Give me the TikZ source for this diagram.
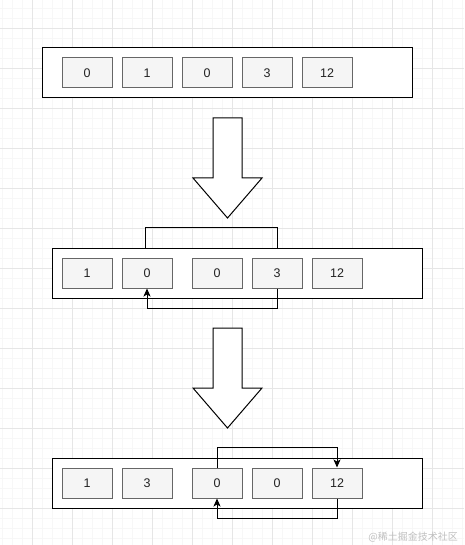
\documentclass[tikz,border=0pt]{standalone}
\usepackage{fontspec}
\setmainfont{Liberation Sans}
\newfontfamily\cjkfont{Noto Sans CJK SC}
\usetikzlibrary{arrows.meta,positioning}

\definecolor{cellfill}{HTML}{F5F5F5}
\definecolor{celldraw}{HTML}{666666}
\definecolor{celltext}{HTML}{222222}
\definecolor{gridmajor}{HTML}{E6E6E6}
\definecolor{gridminor}{HTML}{F7F7F7}

\tikzset{
  cell/.style={draw=celldraw,fill=cellfill,line width=1pt,minimum width=50pt,minimum height=30pt,
    inner sep=0pt,text=celltext,font=\fontsize{12.5}{14}\selectfont},
  row/.style={draw=black,fill=white,line width=1pt,minimum width=370pt,minimum height=50pt,inner sep=0pt},
  link/.style={draw=black,line width=1pt},
  blockarrow/.style={draw=black,fill=white,line width=1pt,line join=miter}
}

\begin{document}
\begin{tikzpicture}[x=1pt,y=-1pt]
  \useasboundingbox (0,0) rectangle (464,545);

  % Grid
  \foreach \gx in {2,12,...,462} \draw[gridminor,line width=0.6pt] (\gx,0) -- (\gx,545);
  \foreach \gy in {8,18,...,538} \draw[gridminor,line width=0.6pt] (0,\gy) -- (464,\gy);
  \foreach \gx in {32,72,...,432} \draw[gridmajor,line width=0.8pt] (\gx,0) -- (\gx,545);
  \foreach \gy in {28,68,...,508} \draw[gridmajor,line width=0.8pt] (0,\gy) -- (464,\gy);

  % First row
  \node[row] (rowa) at (227,73) {};
  \node[cell] (a1) at (87,73) {0};
  \node[cell] (a2) at (147,73) {1};
  \node[cell] (a3) at (207,73) {0};
  \node[cell] (a4) at (267,73) {3};
  \node[cell] (a5) at (327,73) {12};

  % Block arrows
  \draw[blockarrow] (213,118) -- (242,118) -- (242,178) -- (262,178) -- (227.5,218)
    -- (193,178) -- (213,178) -- cycle;
  \draw[blockarrow] (213,328) -- (242,328) -- (242,388) -- (262,388) -- (227.5,428)
    -- (193,388) -- (213,388) -- cycle;

  % Second row
  \node[cell] (b2) at (147,273) {};
  \node[cell] (b4) at (277,273) {};
  \draw[link] ([xshift=-2pt]b2.north) -- ++(0,-30) -| (b4.north);
  \node[row] (rowb) at (237,273) {};
  \node[cell] (b1) at (87,273) {1};
  \node[cell] (b2) at (147,273) {0};
  \node[cell] (b3) at (217,273) {0};
  \node[cell] (b4) at (277,273) {3};
  \node[cell] (b5) at (337,273) {12};
  \draw[link,-{Stealth[length=8pt,width=7pt,inset=2pt]}] (b4.south) -- ++(0,20) -| (b2.south);

  % Third row
  \node[row] (rowc) at (237,483) {};
  \node[cell] (c1) at (87,483) {1};
  \node[cell] (c2) at (147,483) {3};
  \node[cell] (c3) at (217,483) {0};
  \node[cell] (c4) at (277,483) {0};
  \node[cell] (c5) at (337,483) {12};
  \draw[link,-{Stealth[length=8pt,width=7pt,inset=2pt]}] (c3.north) -- ++(0,-20) -| (c5.north);
  \draw[link,-{Stealth[length=8pt,width=7pt,inset=2pt]}] (c5.south) -- ++(0,20) -| (c3.south);

  % Watermark
  \node[anchor=east,text=black!25,font=\cjkfont\fontsize{10}{12}\selectfont,inner sep=0pt] (mark)
    at (458,537) {@稀土掘金技术社区};
\end{tikzpicture}
\end{document}
